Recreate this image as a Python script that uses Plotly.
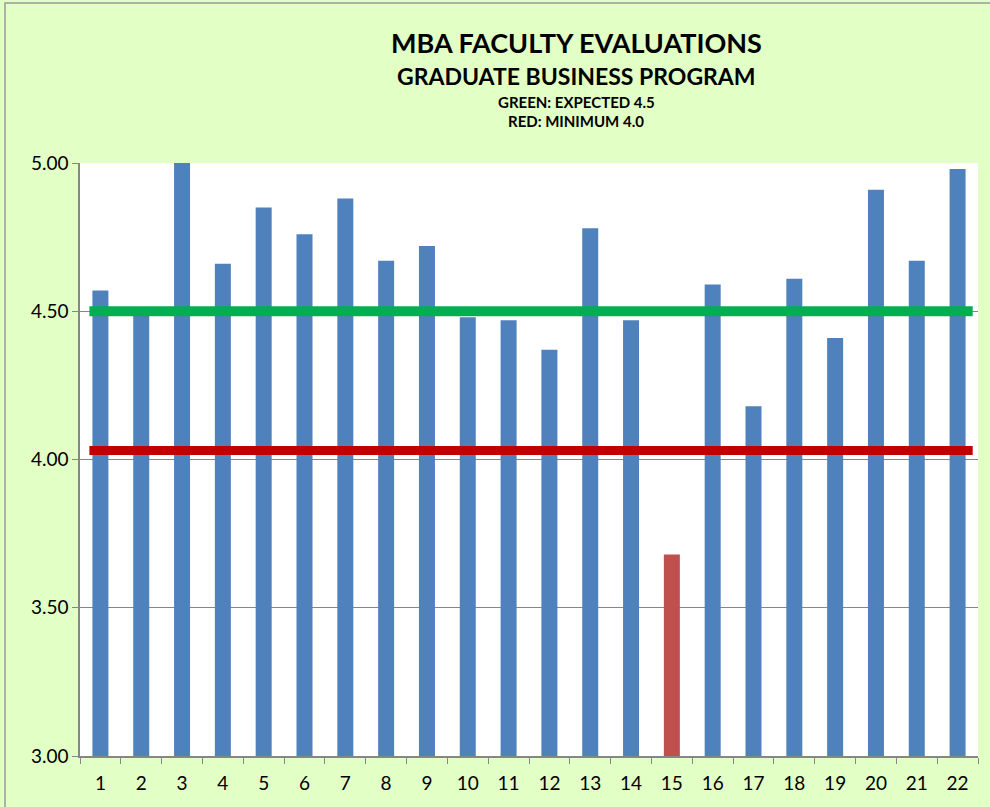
import plotly.graph_objects as go

instructors = [str(i) for i in range(1, 23)]
scores = [4.57, 4.49, 5.00, 4.66, 4.85, 4.76, 4.88, 4.67, 4.72, 4.48, 4.47,
          4.37, 4.78, 4.47, 3.68, 4.59, 4.18, 4.61, 4.41, 4.91, 4.67, 4.98]
expected_level = 4.5
minimum_level = 4.03
y_ticks = [3.0, 3.5, 4.0, 4.5, 5.0]
title_lines = ["MBA FACULTY EVALUATIONS", "GRADUATE BUSINESS PROGRAM",
               "GREEN: EXPECTED 4.5", "RED: MINIMUM 4.0"]

BLUE = "#4F81BD"
RED_BAR = "#C0504D"
colors = [RED_BAR if s < 4.0 else BLUE for s in scores]

FONT = "Lato"
W, H = 990, 807
L, R, T, B = 80, 12, 163, 51
pw, ph = W - L - R, H - T - B

def py(p):
    return (H - B - p) / ph

def px(p):
    return (p - L) / pw

fig = go.Figure()
fig.add_trace(go.Bar(x=instructors, y=scores, marker=dict(color=colors, line=dict(width=0)),
                     showlegend=False, hoverinfo="x+y"))

# reference lines
fig.add_shape(type="line", xref="x", yref="y", x0=-0.27, x1=21.37,
              y0=expected_level, y1=expected_level,
              line=dict(color="#00B050", width=10), layer="above")
fig.add_shape(type="line", xref="x", yref="y", x0=-0.27, x1=21.37,
              y0=minimum_level, y1=minimum_level,
              line=dict(color="#C00000", width=9), layer="above")

# outer border
fig.add_shape(type="rect", xref="paper", yref="paper",
              x0=px(5), x1=px(1000), y0=py(3), y1=py(820),
              line=dict(color="#9A9A9A", width=1.5), fillcolor="rgba(0,0,0,0)", layer="below")

sizes = [27, 23, 15, 15]
ys = [42, 76, 102, 121]
for txt, s, yy in zip(title_lines, sizes, ys):
    fig.add_annotation(text="<b>%s</b>" % txt, xref="paper", yref="paper",
                       x=px(576), y=py(yy), xanchor="center", yanchor="middle",
                       showarrow=False, font=dict(family=FONT, size=s, color="#000000"))

fig.update_layout(
    width=W, height=H,
    margin=dict(l=L, r=R, t=T, b=B, pad=0),
    paper_bgcolor="#E2FFC6",
    plot_bgcolor="#FFFFFF",
    bargap=0.608,
    font=dict(family=FONT, size=19, color="#000000"),
    xaxis=dict(type="category", tickson="boundaries", ticks="outside", ticklen=6,
               tickcolor="#868686", showline=True, linecolor="#868686", linewidth=1.5,
               showgrid=False, tickfont=dict(size=19), range=[-0.5, 21.5], fixedrange=True,
               ticklabelstandoff=9),
    yaxis=dict(range=[3, 5], tickvals=y_ticks, tickformat=".2f", ticks="outside",
               ticklen=6, tickcolor="#868686", showline=True, linecolor="#868686",
               linewidth=1.5, showgrid=True, gridcolor="#868686", gridwidth=1,
               zeroline=False, tickfont=dict(size=19), fixedrange=True),
)

fig.write_html("out.html", config={"displayModeBar": False},
               post_script="document.body.style.margin='0';document.body.style.overflow='hidden';")
